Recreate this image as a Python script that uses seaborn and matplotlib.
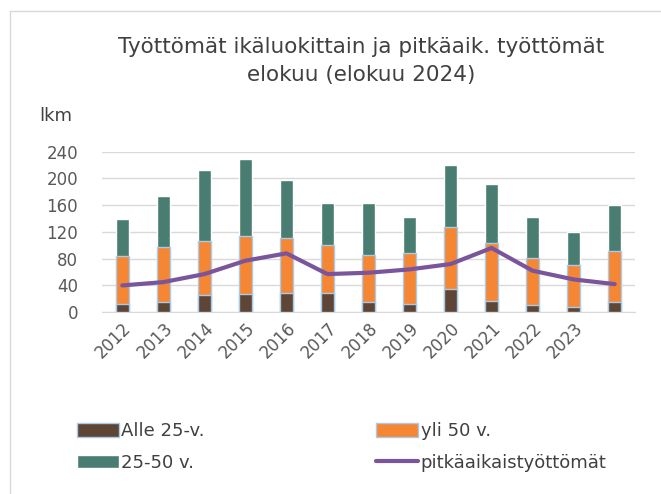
import numpy as np
import pandas as pd
import seaborn as sns
import matplotlib.pyplot as plt
from matplotlib.patches import Patch
from matplotlib.lines import Line2D

# Vuodet ja arvot (tuhatta henkeä), luettu kuvasta
vuodet = ["2012", "2013", "2014", "2015", "2016", "2017", "2018",
          "2019", "2020", "2021", "2022", "2023", "2024"]
x_nimet = ["2012", "2013", "2014", "2015", "2016", "2017", "2018",
           "2019", "2020", "2021", "2022", "2023", ""]
alle_25 = [13, 15, 25, 27, 29, 29, 15, 13, 35, 17, 11, 8, 15]
yli_50 = [71, 82, 81, 87, 82, 72, 71, 75, 92, 87, 70, 63, 77]
v25_50 = [56, 77, 106, 115, 87, 62, 77, 55, 93, 87, 62, 49, 68]
pitkaaik = [40, 45, 57, 77, 88, 57, 59, 64, 72, 96, 62, 49, 42]

df = pd.DataFrame({"Vuosi": vuodet, "Alle 25-v.": alle_25, "yli 50 v.": yli_50,
                   "25-50 v.": v25_50, "pitkäaikaistyöttömät": pitkaaik})
df["ala_kerros"] = df["Alle 25-v."]
df["keski_kerros"] = df["Alle 25-v."] + df["yli 50 v."]
df["yhteensa"] = df["keski_kerros"] + df["25-50 v."]

c_ruskea = "#5E4535"
c_oranssi = "#F58634"
c_vihrea = "#4A7D71"
c_violetti = "#7B559C"
c_reuna = "#A8CBEA"

sns.set_style("white")
plt.rcParams["font.family"] = ["DejaVu Sans"]

fig = plt.figure(figsize=(6.61, 4.94), dpi=100)
ax = fig.add_axes([0.154, 0.368, 0.807, 0.325])

# pinotut pylväät kerroksittain
sns.barplot(data=df, x="Vuosi", y="yhteensa", color=c_vihrea, width=0.32,
            saturation=1, ax=ax, zorder=2)
sns.barplot(data=df, x="Vuosi", y="keski_kerros", color=c_oranssi, width=0.32,
            saturation=1, edgecolor=c_reuna, linewidth=1, ax=ax, zorder=3)
sns.barplot(data=df, x="Vuosi", y="ala_kerros", color=c_ruskea, width=0.32,
            saturation=1, edgecolor=c_reuna, linewidth=1, ax=ax, zorder=4)
sns.lineplot(data=df, x="Vuosi", y="pitkäaikaistyöttömät", color=c_violetti,
             linewidth=3, ax=ax, zorder=5, sort=False)

ax.set_ylim(0, 240)
ax.set_xlim(-0.5, len(vuodet) - 0.5)
ax.set_yticks(range(0, 241, 40))
ax.set_xticks(range(len(vuodet)))
ax.set_xticklabels(x_nimet, rotation=45, ha="right", rotation_mode="anchor")
ax.tick_params(axis="both", length=0, labelsize=12, colors="#595959")
ax.tick_params(axis="y", pad=17)
ax.tick_params(axis="x", pad=5)
ax.set_xlabel("")
ax.set_ylabel("")
ax.grid(axis="y", color="#D9D9D9", linewidth=1, zorder=0)
ax.set_axisbelow(True)
for s in ["top", "right", "left"]:
    ax.spines[s].set_visible(False)
ax.spines["bottom"].set_color("#D9D9D9")

fig.text(0.547, 0.877, "Työttömät ikäluokittain ja pitkäaik. työttömät\nelokuu (elokuu 2024)",
         ha="center", va="center", fontsize=15.5, color="#404040", linespacing=1.5)
fig.text(0.06, 0.765, "lkm", fontsize=13, color="#404040", va="center")

kahvat = [Patch(facecolor=c_ruskea, edgecolor=c_reuna),
          Patch(facecolor=c_vihrea),
          Patch(facecolor=c_oranssi, edgecolor=c_reuna),
          Line2D([0], [0], color=c_violetti, linewidth=3)]
nimet = ["Alle 25-v.", "25-50 v.", "yli 50 v.", "pitkäaikaistyöttömät"]
fig.legend(kahvat, nimet, ncol=2, loc="center left", bbox_to_anchor=(0.092, 0.095),
           frameon=False, fontsize=13, handlelength=2.3, handleheight=0.8,
           handletextpad=0.15, columnspacing=9.5, labelspacing=0.75, labelcolor="#404040")

# taulukkolaskennan kehyksen reunat
fig.add_artist(Line2D([0.015, 1.0], [0.978, 0.978], color="#D9D9D9", linewidth=1))
fig.add_artist(Line2D([0.015, 0.015], [0.0, 0.978], color="#D9D9D9", linewidth=1))

fig.savefig("out.png", dpi=100)
